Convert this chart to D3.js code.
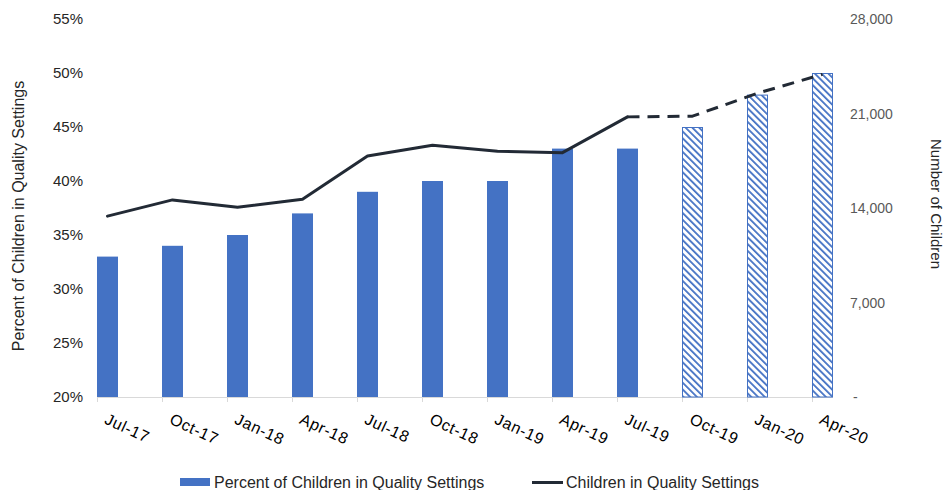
<!DOCTYPE html>
<html>
<head>
<meta charset="utf-8">
<script src="https://cdn.jsdelivr.net/npm/d3@7"></script>
<style>
  body { margin: 0; background: #fff; }
  text { font-family: "Liberation Sans", Arial, sans-serif; }
</style>
</head>
<body>
<svg id="chart" width="946" height="490"></svg>
<script>
// Quarterly data
const categories = ["Jul-17", "Oct-17", "Jan-18", "Apr-18", "Jul-18", "Oct-18",
                    "Jan-19", "Apr-19", "Jul-19", "Oct-19", "Jan-20", "Apr-20"];
const percentValues = [33, 34, 35, 37, 39, 40, 40, 43, 43, 45, 48, 50];
const childrenValues = [13400, 14600, 14050, 14650, 17850, 18650, 18200, 18100,
                        20750, 20800, 22500, 23900];
const lastActual = "Jul-19";           // later quarters are projections
const percentTicks = [20, 25, 30, 35, 40, 45, 50, 55];
const childrenTicks = [0, 7000, 14000, 21000, 28000];

const barColor = "#4472c4";
const lineColor = "#222a35";

const svg = d3.select("#chart");
const plotTop = 19, plotBottom = 397;

const x = d3.scalePoint().domain(categories).range([107.5, 822.5]);
const yLeft = d3.scaleLinear().domain([20, 55]).range([plotBottom, plotTop]);
const yRight = d3.scaleLinear().domain([0, 28000]).range([plotBottom, plotTop]);
const barW = 21;
const lastIdx = categories.indexOf(lastActual);

// hatch pattern for projected bars
const defs = svg.append("defs");
const pat = defs.append("pattern")
  .attr("id", "hatch")
  .attr("patternUnits", "userSpaceOnUse")
  .attr("width", 4.8).attr("height", 4.8)
  .attr("patternTransform", "rotate(-45)");
pat.append("rect").attr("width", 4.8).attr("height", 4.8).attr("fill", "#fff");
pat.append("rect").attr("x", 0).attr("width", 1.8).attr("height", 4.8).attr("fill", barColor);

// x axis baseline and ticks
svg.append("line")
  .attr("x1", x(categories[0]) - barW / 2).attr("x2", x(categories[categories.length - 1]) + barW / 2)
  .attr("y1", plotBottom + 0.5).attr("y2", plotBottom + 0.5)
  .attr("stroke", "#d9d9d9");
svg.append("g").selectAll("line").data(categories).join("line")
  .attr("x1", d => x(d) - barW / 2 + 0.5).attr("x2", d => x(d) - barW / 2 + 0.5)
  .attr("y1", plotBottom).attr("y2", plotBottom + 5)
  .attr("stroke", "#d9d9d9");

// bars
const data = categories.map((c, i) => ({ c, i, p: percentValues[i], n: childrenValues[i] }));
svg.append("g").selectAll("rect").data(data).join("rect")
  .attr("x", d => x(d.c) - barW / 2 + (d.i > lastIdx ? 0.5 : 0))
  .attr("y", d => yLeft(d.p) + (d.i > lastIdx ? 0.5 : 0))
  .attr("width", d => barW - (d.i > lastIdx ? 1 : 0))
  .attr("height", d => plotBottom - yLeft(d.p) - (d.i > lastIdx ? 0.5 : 0))
  .attr("fill", d => d.i > lastIdx ? "url(#hatch)" : barColor)
  .attr("stroke", d => d.i > lastIdx ? barColor : "none")
  .attr("stroke-width", 1);

// line: solid for actuals, dashed for projections
const line = d3.line().x(d => x(d.c)).y(d => yRight(d.n));
svg.append("path")
  .attr("d", line(data.slice(0, lastIdx + 1)))
  .attr("fill", "none").attr("stroke", lineColor)
  .attr("stroke-width", 3).attr("stroke-linejoin", "round").attr("stroke-linecap", "round");
svg.append("path")
  .attr("d", line(data.slice(lastIdx)))
  .attr("fill", "none").attr("stroke", lineColor)
  .attr("stroke-width", 3).attr("stroke-linejoin", "round")
  .attr("stroke-dasharray", "12,8");

// left axis labels
svg.append("g").selectAll("text").data(percentTicks).join("text")
  .attr("x", 83).attr("y", d => yLeft(d) + 5)
  .attr("text-anchor", "end")
  .attr("font-size", 15).attr("fill", "#262626")
  .text(d => d + "%");

// right axis labels
const fmt = d3.format(",");
svg.append("g").selectAll("text").data(childrenTicks).join("text")
  .attr("x", d => d === 0 ? 853 : 850).attr("y", d => yRight(d) + 5)
  .attr("font-size", 14).attr("fill", "#595959")
  .text(d => d === 0 ? "-" : fmt(d));

// category labels, rotated
svg.append("g").selectAll("text").data(categories).join("text")
  .attr("transform", d => `translate(${x(d) - 4},${plotBottom + 26}) rotate(25)`)
  .attr("font-size", 16).attr("letter-spacing", 0.6).attr("fill", "#000")
  .text(d => d);

// axis titles
svg.append("text")
  .attr("transform", `translate(24,216) rotate(-90)`)
  .attr("text-anchor", "middle").attr("font-size", 16).attr("fill", "#262626")
  .text("Percent of Children in Quality Settings");
svg.append("text")
  .attr("transform", `translate(931,204) rotate(90)`)
  .attr("text-anchor", "middle").attr("font-size", 15).attr("fill", "#262626")
  .text("Number of Children");

// legend
const lg = svg.append("g");
lg.append("rect").attr("x", 180).attr("y", 478).attr("width", 30).attr("height", 8).attr("fill", barColor);
lg.append("text").attr("x", 214).attr("y", 488).attr("font-size", 16).attr("fill", "#262626")
  .text("Percent of Children in Quality Settings");
lg.append("line").attr("x1", 532).attr("x2", 563).attr("y1", 482.5).attr("y2", 482.5)
  .attr("stroke", lineColor).attr("stroke-width", 3);
lg.append("text").attr("x", 566).attr("y", 488).attr("font-size", 16).attr("fill", "#262626")
  .text("Children in Quality Settings");
</script>
</body>
</html>
